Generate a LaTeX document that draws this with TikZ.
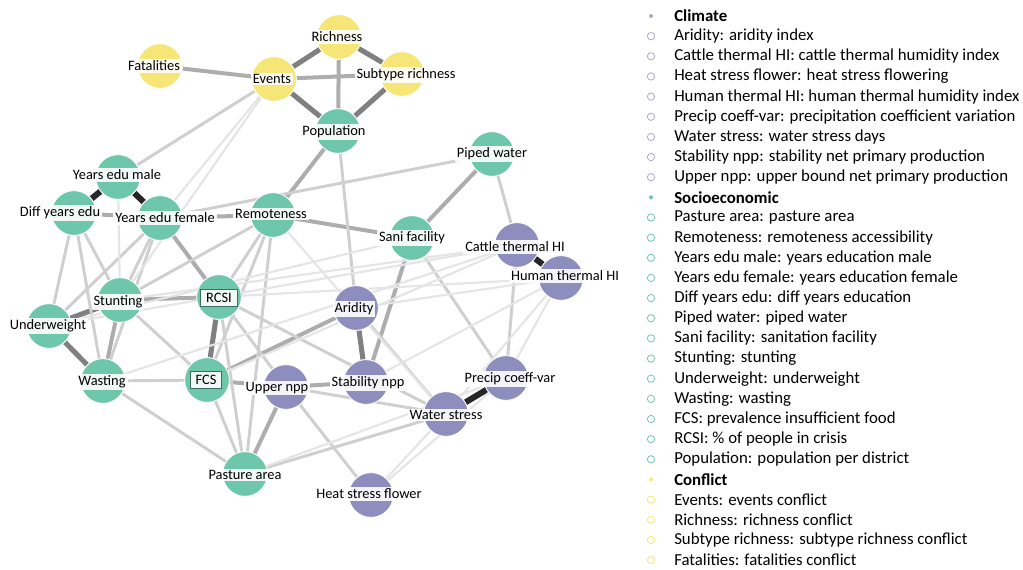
\documentclass[tikz,border=0pt]{standalone}
\usepackage{fontspec}
\setmainfont{Carlito}
\definecolor{climcol}{RGB}{141,141,190}
\definecolor{soccol}{RGB}{110,199,170}
\definecolor{confcol}{RGB}{246,230,120}
\definecolor{climdot}{RGB}{170,170,195}
\pgfdeclarelayer{background}
\pgfsetlayers{background,main}
\tikzset{
    varnode/.style = {
        circle,
        minimum size=33.5pt,
        inner sep=0pt,
        draw=white,
        line width=0.6pt
    },
    climnode/.style = {varnode, fill=climcol},
    socnode/.style = {varnode, fill=soccol},
    confnode/.style = {varnode, fill=confcol},
    namelabel/.style = {
        fill=white,
        fill opacity=0.9,
        text opacity=1,
        inner xsep=1.5pt,
        inner ysep=1.2pt,
        minimum width=29pt,
        font=\fontsize{10.8}{13}\selectfont
    },
    boxlabel/.style = {
        namelabel,
        minimum width=0pt,
        draw=soccol!55!black,
        line width=0.6pt,
        inner xsep=4pt,
        inner ysep=3pt
    },
    linkblack/.style = {draw=black!85, line width=4.5pt},
    linkdark/.style = {draw=black!50, line width=3.8pt},
    linkmid/.style = {draw=black!32, line width=3pt},
    linklight/.style = {draw=black!19, line width=2.2pt},
    linkfaint/.style = {draw=black!10, line width=1.6pt},
    legendtext/.style = {
        anchor=west,
        inner sep=0pt,
        font=\fontsize{12.6}{15}\selectfont
    },
    headdot/.style = {circle, inner sep=0pt, minimum size=3pt},
    itemdot/.style = {circle, inner sep=0pt, minimum size=5.5pt, line width=0.6pt}
}

\begin{document}
\begin{tikzpicture}[x=0.75pt, y=-0.75pt]
    \useasboundingbox (0,0) rectangle (1023,569);

    % conflict
    \node [confnode] (rich) at (339,37) {};
    \node [confnode] (fat) at (160,66) {};
    \node [confnode] (ev) at (274,79) {};
    \node [confnode] (sub) at (402,74) {};
    % socioeconomic
    \node [socnode] (pop) at (338,131) {};
    \node [socnode] (pip) at (492,154) {};
    \node [socnode] (sani) at (412,238) {};
    \node [socnode] (ym) at (118,177) {};
    \node [socnode] (dye) at (74,213) {};
    \node [socnode] (yef) at (160,218) {};
    \node [socnode] (rem) at (273,215) {};
    \node [socnode] (stu) at (120,300) {};
    \node [socnode] (rcsi) at (219,297) {};
    \node [socnode] (und) at (49,326) {};
    \node [socnode] (was) at (103,381) {};
    \node [socnode] (fcs) at (207,380) {};
    \node [socnode] (pas) at (245,474) {};
    % climate
    \node [climnode] (cth) at (517,245) {};
    \node [climnode] (hth) at (561,278) {};
    \node [climnode] (ari) at (356,308) {};
    \node [climnode] (upnpp) at (286,387) {};
    \node [climnode] (stab) at (366,382) {};
    \node [climnode] (ws) at (446,414) {};
    \node [climnode] (pcv) at (506,378) {};
    \node [climnode] (hsf) at (371,495) {};

    \begin{pgfonlayer}{background}
        \foreach \a/\b in {ym/dye, ym/yef, pcv/ws, cth/hth}
            \draw [linkblack] (\a) -- (\b);
        \foreach \a/\b in {ev/pop, rich/sub, sub/pop, ev/rich, und/was, und/stu,
                rcsi/fcs, ari/stab}
            \draw [linkdark] (\a) -- (\b);
        \foreach \a/\b in {ev/sub, fat/ev, stu/rcsi, rem/sani, pip/sani, sani/stab,
                upnpp/pas, fcs/ari, yef/rcsi, upnpp/stab, pop/rem, stu/was,
                dye/yef, yef/rem, rich/pop, fcs/upnpp}
            \draw [linkmid] (\a) -- (\b);
        \foreach \a/\b in {pop/ari, pip/cth, sani/pcv, rem/rcsi, rem/stu, rem/pas,
                yef/stu, yef/und, dye/und, dye/stu, dye/was, was/pas, fcs/pas,
                rcsi/pas, rcsi/upnpp, rcsi/ws, upnpp/hsf, upnpp/ws, ari/ws,
                pas/ws, cth/pcv, stu/fcs, ev/ym, was/fcs, pip/yef, yef/was, rem/fcs}
            \draw [linklight] (\a) -- (\b);
        \foreach \a/\b in {ev/yef, ev/stu, cth/fcs, cth/was, cth/und, hth/ws,
                hth/pcv, hth/rcsi, hsf/ws, hsf/pcv, ari/hth, cth/stu, sani/und,
                hth/stab, pas/pcv, rem/ws, ym/stu}
            \draw [linkfaint] (\a) -- (\b);
    \end{pgfonlayer}

    % names
    \node [namelabel] (l-rich) at (337,37) {Richness};
    \node [namelabel] (l-fat) at (154,66) {Fatalities};
    \node [namelabel] (l-ev) at (272,79) {Events};
    \node [namelabel] (l-sub) at (406,75) {Subtype richness};
    \node [namelabel] (l-pop) at (334,132) {Population};
    \node [namelabel] (l-pip) at (492,154) {Piped water};
    \node [namelabel] (l-sani) at (412,238) {Sani facility};
    \node [namelabel] (l-ym) at (117,175) {Years edu male};
    \node [namelabel] (l-dye) at (60,213) {Diff years edu};
    \node [namelabel] (l-yef) at (165,218) {Years edu female};
    \node [namelabel] (l-rem) at (271,214) {Remoteness};
    \node [namelabel] (l-stu) at (118,302) {Stunting};
    \node [boxlabel] (l-rcsi) at (219,298) {RCSI};
    \node [namelabel] (l-und) at (48,326) {Underweight};
    \node [namelabel] (l-was) at (102,382) {Wasting};
    \node [boxlabel] (l-fcs) at (206,380) {FCS};
    \node [namelabel] (l-pas) at (245,475) {Pasture area};
    \node [namelabel] (l-cth) at (515,247) {Cattle thermal HI};
    \node [namelabel] (l-hth) at (565,276) {Human thermal HI};
    \node [namelabel] (l-ari) at (354,309) {Aridity};
    \node [namelabel] (l-upnpp) at (277,388) {Upper npp};
    \node [namelabel] (l-stab) at (368,383) {Stability npp};
    \node [namelabel] (l-ws) at (446,415) {Water stress};
    \node [namelabel] (l-pcv) at (510,379) {Precip coeff-var};
    \node [namelabel] (l-hsf) at (369,494) {Heat stress flower};

    % legend
    \node [headdot, fill=climdot] (d-clim) at (651,16) {};
    \node [legendtext] (h-clim) at (674,16) {\bfseries Climate};
    \foreach \txt [count=\i from 1] in {Aridity: aridity index,
            Cattle thermal HI: cattle thermal humidity index,
            Heat stress flower: heat stress flowering,
            Human thermal HI: human thermal humidity index,
            Precip coeff-var: precipitation coefficient variation,
            Water stress: water stress days,
            Stability npp: stability net primary production,
            Upper npp: upper bound net primary production} {
        \node [itemdot, draw=climdot] (cd\i) at (651,{16+20.15*\i}) {};
        \node [legendtext] (ct\i) at (674,{16+20.15*\i}) {\txt};
    }
    \node [headdot, fill=soccol] (d-soc) at (651,{16+20.15*9}) {};
    \node [legendtext] (h-soc) at (674,{16+20.15*9}) {\bfseries Socioeconomic};
    \foreach \txt [count=\i from 10] in {Pasture area: pasture area,
            Remoteness: remoteness accessibility,
            Years edu male: years education male,
            Years edu female: years education female,
            Diff years edu: diff years education,
            Piped water: piped water,
            Sani facility: sanitation facility,
            Stunting: stunting,
            Underweight: underweight,
            Wasting: wasting,
            FCS: prevalence insufficient food,
            RCSI: \% of people in crisis,
            Population: population per district} {
        \node [itemdot, draw=soccol] (sd\i) at (651,{16+20.15*\i}) {};
        \node [legendtext] (st\i) at (674,{16+20.15*\i}) {\txt};
    }
    \node [headdot, fill=confcol] (d-conf) at (651,{16+20.15*23}) {};
    \node [legendtext] (h-conf) at (674,{16+20.15*23}) {\bfseries Conflict};
    \foreach \txt [count=\i from 24] in {Events: events conflict,
            Richness: richness conflict,
            Subtype richness: subtype richness conflict,
            Fatalities: fatalities conflict} {
        \node [itemdot, draw=confcol] (fd\i) at (651,{16+20.15*\i}) {};
        \node [legendtext] (ft\i) at (674,{16+20.15*\i}) {\txt};
    }
\end{tikzpicture}
\end{document}
